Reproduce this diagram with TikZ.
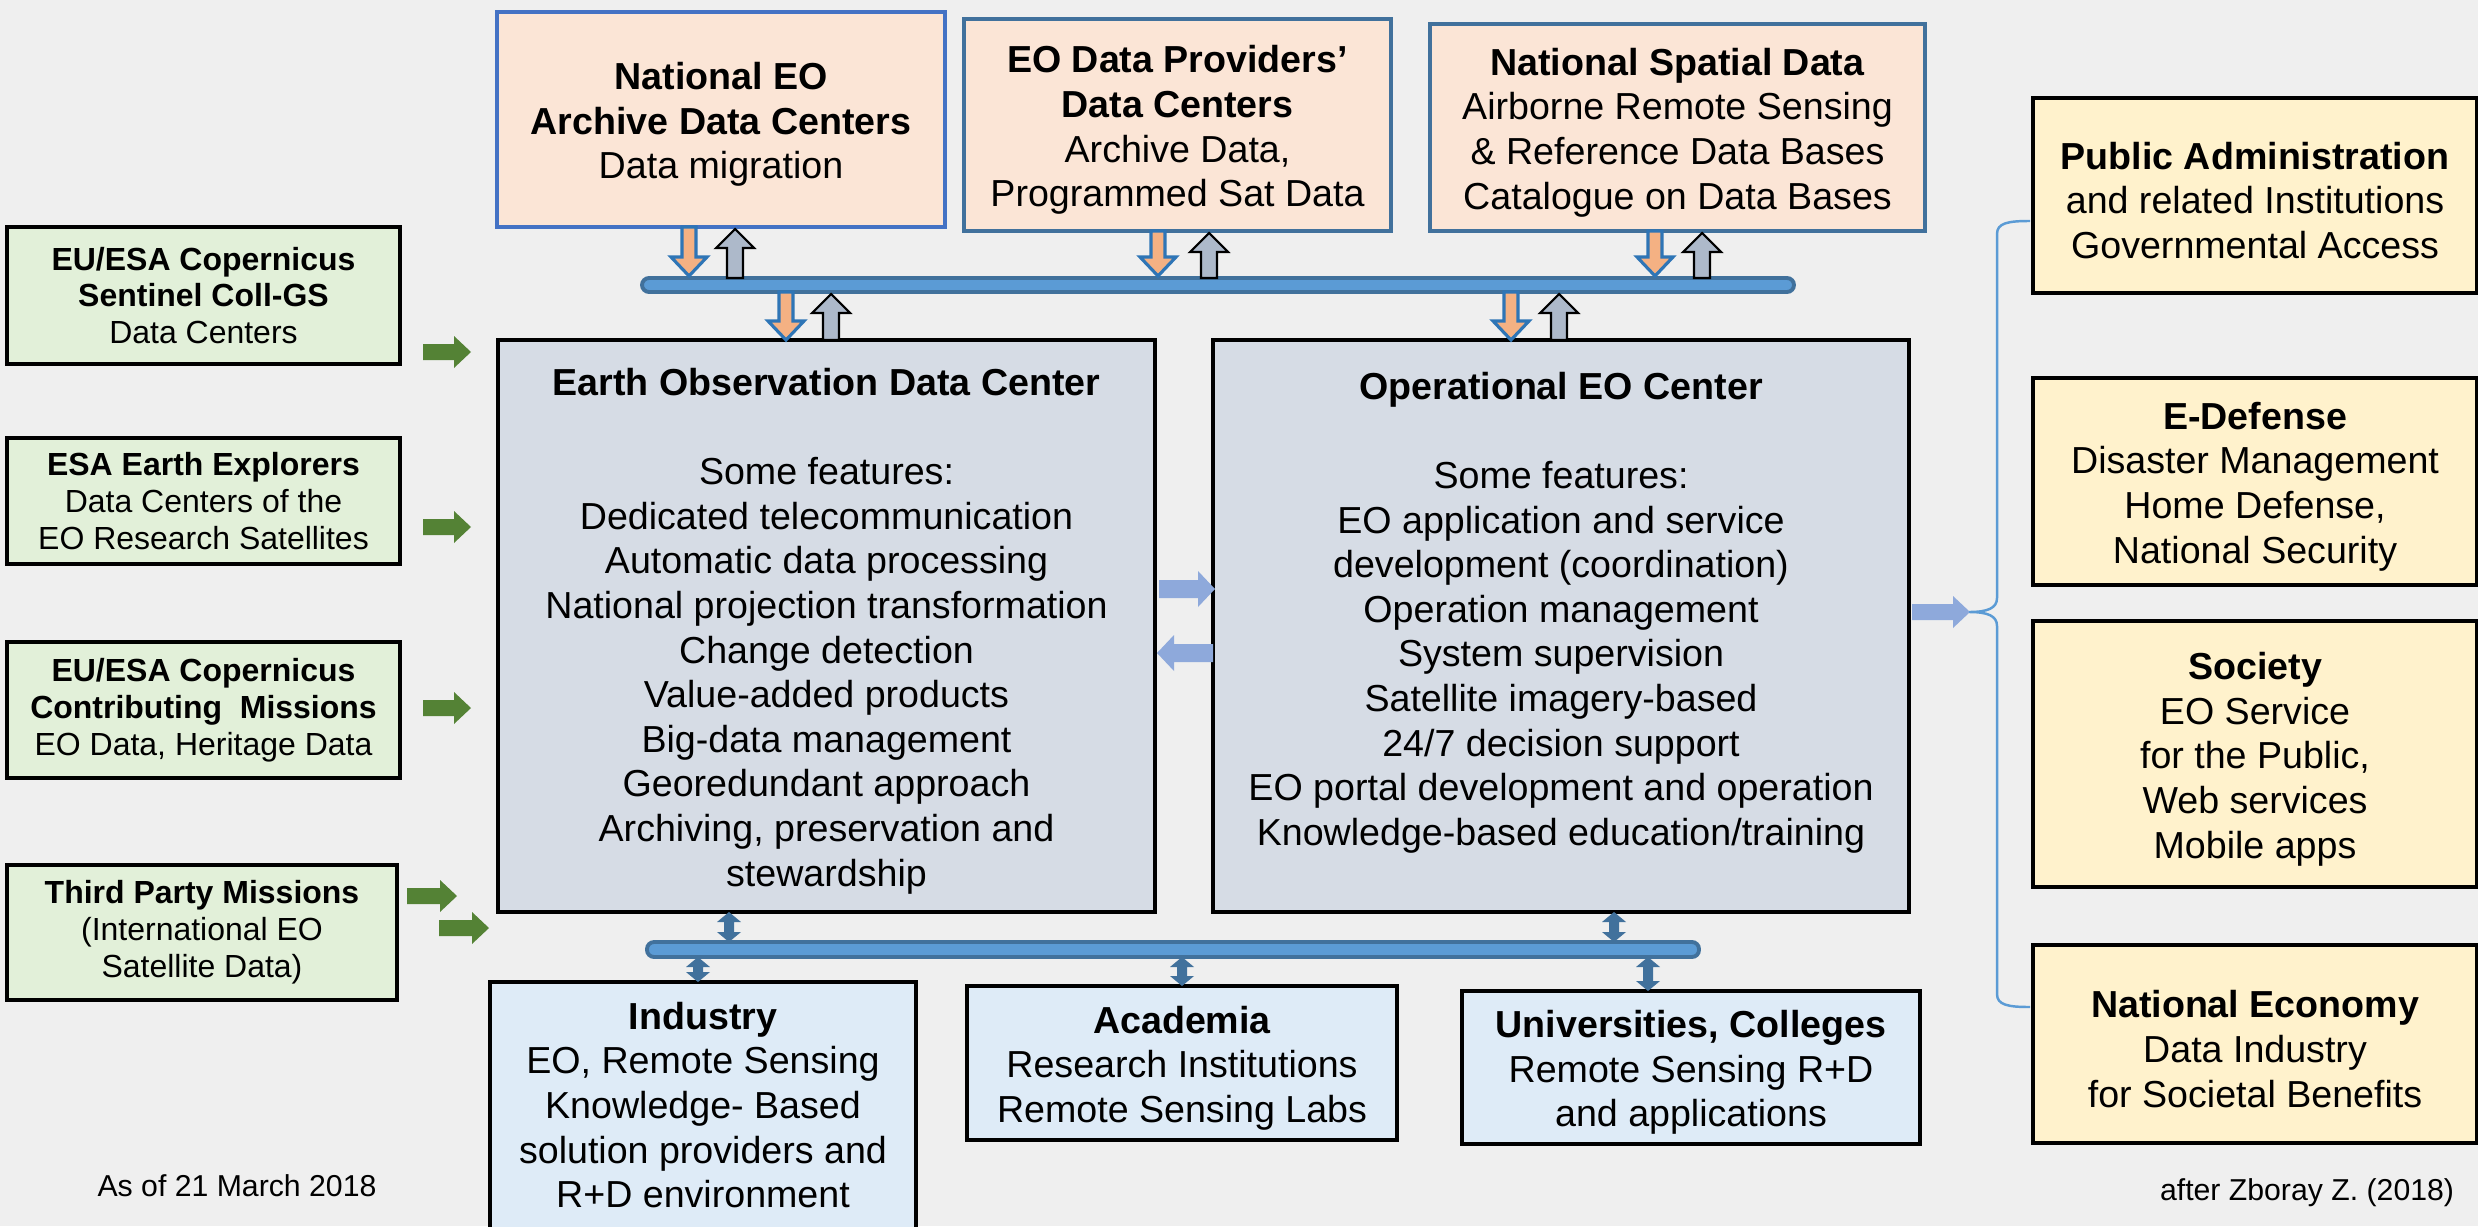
\documentclass[tikz,border=0pt]{standalone}
\usepackage{fontspec}
\setmainfont{Liberation Sans}
\definecolor{bgc}{HTML}{EFEFEF}
\definecolor{cpeach}{HTML}{FBE5D6}
\definecolor{ctopb}{HTML}{4472C4}
\definecolor{ctopb2}{HTML}{41719C}
\definecolor{cmain}{HTML}{D6DCE5}
\definecolor{cgreen}{HTML}{E2F0D9}
\definecolor{cyel}{HTML}{FFF2CC}
\definecolor{cbot}{HTML}{DEEBF7}
\definecolor{cbusf}{HTML}{5B9BD5}
\definecolor{cbusd}{HTML}{41719C}
\definecolor{corange}{HTML}{F4B183}
\definecolor{corb}{HTML}{2E75B6}
\definecolor{cgray}{HTML}{ADB9CA}
\definecolor{cgarr}{HTML}{548235}
\definecolor{clight}{HTML}{8EA9DB}
\definecolor{cbrace}{HTML}{5B9BD5}
\newcommand\txtshift{5}
\newcommand\mkbox[7]{\node[#6, minimum width={(#4-#2)*0.1mm}, minimum height={(#5-#3)*0.1mm}] (#1) at ({(#2+#4)/2},{(#3+#5)/2}) {};
  \node[#6, draw=none, fill=none] (#1-text) at ({(#2+#4)/2},{(#3+#5)/2+\txtshift}) {#7};}
\newcommand\mkdown[3]{\draw[darr] ({#1-7},#2) -- ({#1+7},#2) -- ({#1+7},{#3-19}) -- ({#1+18},{#3-19}) -- (#1,#3) -- ({#1-18},{#3-19}) -- ({#1-7},{#3-19}) -- cycle;}
\newcommand\mkup[3]{\draw[uarr] ({#1-8},#2) -- ({#1+8},#2) -- ({#1+8},{#3+19}) -- ({#1+19},{#3+19}) -- (#1,#3) -- ({#1-19},{#3+19}) -- ({#1-8},{#3+19}) -- cycle;}
\newcommand\mkright[5]{\fill[#5] (#1,{#3-#4}) -- ({#2-17},{#3-#4}) -- ({#2-17},{#3-2*#4}) -- (#2,#3) -- ({#2-17},{#3+2*#4}) -- ({#2-17},{#3+#4}) -- (#1,{#3+#4}) -- cycle;}
\newcommand\mkleft[5]{\fill[#5] (#1,{#3-#4}) -- ({#2+17},{#3-#4}) -- ({#2+17},{#3-2*#4}) -- (#2,#3) -- ({#2+17},{#3+2*#4}) -- ({#2+17},{#3+#4}) -- (#1,{#3+#4}) -- cycle;}
\newcommand\mkdbl[3]{\fill[dblarr] (#1,#2) -- ({#1+12},{#2+10}) -- ({#1+5},{#2+10}) -- ({#1+5},{#3-10}) -- ({#1+12},{#3-10}) -- (#1,#3) -- ({#1-12},{#3-10}) -- ({#1-5},{#3-10}) -- ({#1-5},{#2+10}) -- ({#1-12},{#2+10}) -- cycle;}
\tikzset{
  base/.style={align=center, font=\fontsize{10.7}{12.7}\selectfont, inner sep=0pt, outer sep=0pt},
  topbox/.style={base, draw=ctopb, fill=cpeach, line width=1.3pt},
  topboxb/.style={base, draw=ctopb2, fill=cpeach, line width=1.3pt},
  mainbox/.style={base, draw=black, fill=cmain, line width=0.9pt},
  greenbox/.style={base, draw=black, fill=cgreen, line width=0.9pt, font=\fontsize{9.1}{10.5}\selectfont},
  yelbox/.style={base, draw=black, fill=cyel, line width=1.3pt},
  botbox/.style={base, draw=black, fill=cbot, line width=0.9pt},
  bus/.style={base, draw=cbusd, fill=cbusf, line width=1.1pt, rounded corners=2pt},
  darr/.style={fill=corange, draw=corb, line width=0.9pt, line join=miter},
  uarr/.style={fill=cgray, draw=black, line width=0.6pt, line join=miter},
  garr/.style={fill=cgarr},
  larr/.style={fill=clight},
  dblarr/.style={fill=cbusd},
  note/.style={inner sep=0pt, font=\fontsize{8.6}{10}\selectfont}
}
\begin{document}
\begin{tikzpicture}[x=0.1mm,y=-0.1mm]
\fill[bgc] (0,0) rectangle (2478,1226);
\clip (0,0) rectangle (2478,1226);

% top boxes
\mkbox{arch}{497}{12}{945}{227}{topbox}{\textbf{National EO}\\\textbf{Archive Data Centers}\\Data migration}
\mkbox{prov}{964}{19}{1391}{231}{topboxb}{\textbf{EO Data Providers’}\\\textbf{Data Centers}\\Archive Data,\\Programmed Sat Data}
\mkbox{spat}{1430}{24}{1925}{231}{topboxb}{\textbf{National Spatial Data}\\Airborne Remote Sensing\\\& Reference Data Bases\\Catalogue on Data Bases}

% top bus
\mkbox{topbus}{642}{278}{1794}{292}{bus}{}

% main boxes
\mkbox{eodc}{498}{340}{1155}{912}{mainbox}{\textbf{Earth Observation Data Center}\\[12.7pt]Some features:\\Dedicated telecommunication\\Automatic data processing\\National projection transformation\\Change detection\\Value-added products\\Big-data management\\Georedundant approach\\Archiving, preservation and\\stewardship}
\mkbox{opc}{1213}{340}{1909}{912}{mainbox}{\textbf{Operational EO Center}\\[12.7pt]Some features:\\EO application and service\\development (coordination)\\Operation management\\System supervision\\Satellite imagery-based\\24/7 decision support\\EO portal development and operation\\Knowledge-based education/training\\\mbox{}}

% yellow boxes
\mkbox{pub}{2033}{98}{2477}{293}{yelbox}{\textbf{Public Administration}\\and related Institutions\\Governmental Access}
\mkbox{edef}{2033}{378}{2477}{585}{yelbox}{\textbf{E-Defense}\\Disaster Management\\Home Defense,\\National Security}
\mkbox{soc}{2033}{621}{2477}{887}{yelbox}{\textbf{Society}\\EO Service\\for the Public,\\Web services\\Mobile apps}
\mkbox{econ}{2033}{945}{2477}{1143}{yelbox}{\textbf{National Economy}\\Data Industry\\for Societal Benefits}

% bottom bus
\mkbox{botbus}{647}{942}{1699}{957}{bus}{}

% bottom boxes
\mkbox{ind}{490}{982}{916}{1260}{botbox}{}
\node[base, anchor=north] (indtext) at (703,1002) {\textbf{Industry}\\EO, Remote Sensing\\Knowledge- Based\\solution providers and\\R+D environment};
\mkbox{acad}{967}{986}{1397}{1140}{botbox}{\textbf{Academia}\\Research Institutions\\Remote Sensing Labs}
\mkbox{univ}{1462}{991}{1920}{1144}{botbox}{\textbf{Universities, Colleges}\\Remote Sensing R+D\\and applications}

% green boxes
\renewcommand\txtshift{0}
\mkbox{sent}{7}{227}{400}{364}{greenbox}{\textbf{EU/ESA Copernicus}\\\textbf{Sentinel Coll-GS}\\Data Centers}
\mkbox{expl}{7}{438}{400}{564}{greenbox}{\textbf{ESA Earth Explorers}\\Data Centers of the\\EO Research Satellites}
\mkbox{contr}{7}{642}{400}{778}{greenbox}{\textbf{EU/ESA Copernicus}\\\textbf{Contributing\ \ Missions}\\EO Data, Heritage Data}
\mkbox{third}{7}{865}{397}{1000}{greenbox}{\textbf{Third Party Missions}\\(International EO\\Satellite Data)}

% arrows top
\mkdown{689}{227}{276}
\mkup{735}{278}{229}
\mkdown{1158}{231}{276}
\mkup{1209}{278}{233}
\mkdown{1655}{231}{276}
\mkup{1702}{278}{233}
\mkdown{786}{292}{340}
\mkup{831}{340}{294}
\mkdown{1511}{292}{340}
\mkup{1559}{340}{294}

% green arrows
\mkright{423}{471}{352}{8}{garr}
\mkright{423}{471}{527}{8}{garr}
\mkright{423}{471}{708}{8}{garr}
\mkright{407}{457}{896}{8}{garr}
\mkright{439}{489}{928}{8}{garr}

% middle arrows
\mkright{1159}{1215}{589}{9}{larr}
\mkleft{1213}{1157}{653}{9}{larr}
\mkright{1912}{1970}{612}{8}{larr}

% brace
\coordinate (btip) at (1969,612);
\draw[cbrace, line width=0.7pt] (2030,221) .. controls (2008,221) and (1997,223) .. (1997,234) -- (1997,598) .. controls (1997,608) and (1988,612) .. (btip) .. controls (1988,612) and (1997,616) .. (1997,626) -- (1997,994) .. controls (1997,1005) and (2008,1007) .. (2030,1007);

% bottom double arrows
\mkdbl{729}{912}{942}
\mkdbl{1614}{912}{942}
\mkdbl{698}{957}{982}
\mkdbl{1182}{957}{986}
\mkdbl{1648}{957}{991}

% notes
\node[note] (asof) at (237,1186) {As of 21 March 2018};
\node[note] (after) at (2307,1193) {after Zboray Z. (2018)};
\end{tikzpicture}
\end{document}
